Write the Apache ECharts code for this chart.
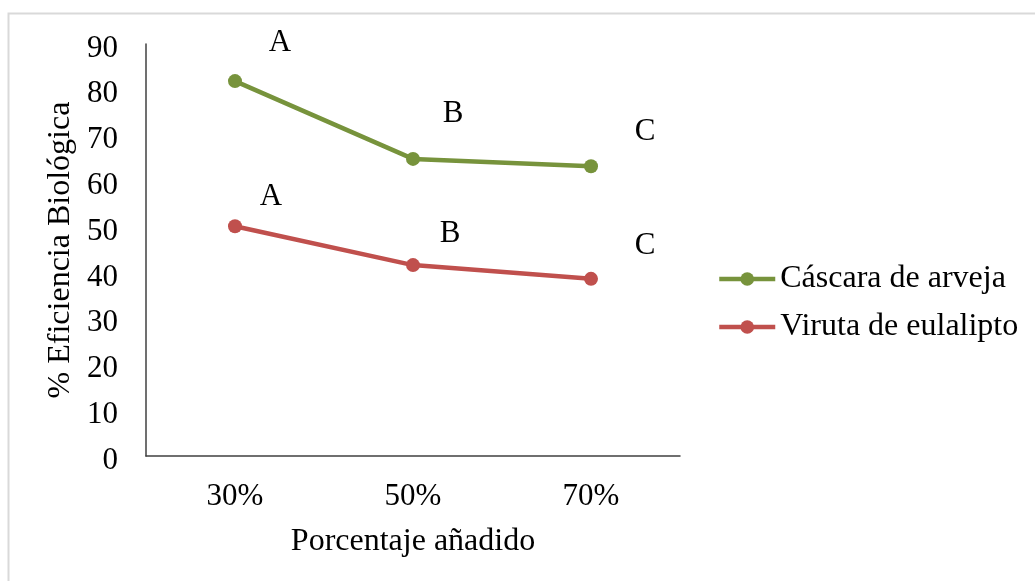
<!DOCTYPE html>
<html>
<head>
<meta charset="utf-8">
<script src="https://cdn.jsdelivr.net/npm/echarts@6/dist/echarts.min.js"></script>
<style>
html,body{margin:0;padding:0;background:#fff;}
#chart{width:1035px;height:581px;}
</style>
</head>
<body>
<div id="chart"></div>
<script>
const categories = ['30%', '50%', '70%'];
const seriesNames = ['Cáscara de arveja', 'Viruta de eulalipto'];
const cascaraValues = [81.9, 64.9, 63.3];
const virutaValues = [50.2, 41.7, 38.7];
const cascaraLetters = ['A', 'B', 'C'];
const virutaLetters = ['A', 'B', 'C'];
const yTicks = [0, 10, 20, 30, 40, 50, 60, 70, 80, 90];

const FONT = "'Liberation Serif', 'Times New Roman', serif";
const cascaraOffsets = [[45, -38], [40, -45], [54, -34]];
const virutaOffsets = [[36, -29], [37, -31], [54, -33]];

function buildData(values, letters, offsets) {
  return values.map((v, i) => ({
    value: v,
    label: {
      show: true,
      formatter: letters[i],
      position: 'inside',
      offset: offsets[i],
      color: '#000',
      fontFamily: FONT,
      fontSize: 31
    }
  }));
}

const chart = echarts.init(document.getElementById('chart'), null, {renderer: 'canvas'});
chart.setOption({
  backgroundColor: '#fff',
  animation: false,
  graphic: [{
    type: 'rect',
    shape: {x: 8.5, y: 13.5, width: 1100, height: 700},
    style: {fill: 'none', stroke: '#d9d9d9', lineWidth: 2},
    silent: true
  }],
  grid: {left: 146, right: 355, top: 44, bottom: 125, containLabel: false},
  legend: {
    orient: 'vertical',
    left: 712,
    top: 258,
    itemWidth: 56,
    itemHeight: 17,
    itemGap: 16,
    itemStyle: {borderWidth: 0},
    lineStyle: {width: 4.5},
    textStyle: {fontFamily: FONT, fontSize: 32, color: '#000'},
    data: seriesNames
  },
  xAxis: {
    type: 'category',
    data: categories,
    boundaryGap: true,
    name: 'Porcentaje añadido',
    nameLocation: 'middle',
    nameGap: 70,
    nameTextStyle: {fontFamily: FONT, fontSize: 32, color: '#000'},
    axisLine: {lineStyle: {color: '#404040', width: 1.5}},
    axisTick: {show: false},
    axisLabel: {fontFamily: FONT, fontSize: 31, color: '#000', margin: 25}
  },
  yAxis: {
    type: 'value',
    min: yTicks[0],
    max: yTicks[yTicks.length - 1],
    interval: 10,
    name: '% Eficiencia Biológica',
    nameLocation: 'middle',
    nameGap: 67,
    nameTextStyle: {fontFamily: FONT, fontSize: 32, color: '#000'},
    axisLine: {show: true, lineStyle: {color: '#404040', width: 1.5}},
    axisTick: {show: false},
    splitLine: {show: false},
    axisLabel: {
      margin: 28,
      formatter: '{t|{value}}',
      rich: {t: {fontFamily: FONT, fontSize: 31, color: '#000', padding: [9, 0, 0, 0]}}
    }
  },
  series: [
    {
      name: seriesNames[0],
      type: 'line',
      data: buildData(cascaraValues, cascaraLetters, cascaraOffsets),
      symbol: 'circle',
      symbolSize: 14,
      lineStyle: {color: '#77933C', width: 4.5},
      itemStyle: {color: '#77933C'}
    },
    {
      name: seriesNames[1],
      type: 'line',
      data: buildData(virutaValues, virutaLetters, virutaOffsets),
      symbol: 'circle',
      symbolSize: 14,
      lineStyle: {color: '#C0504D', width: 4.5},
      itemStyle: {color: '#C0504D'}
    }
  ]
});
</script>
</body>
</html>
